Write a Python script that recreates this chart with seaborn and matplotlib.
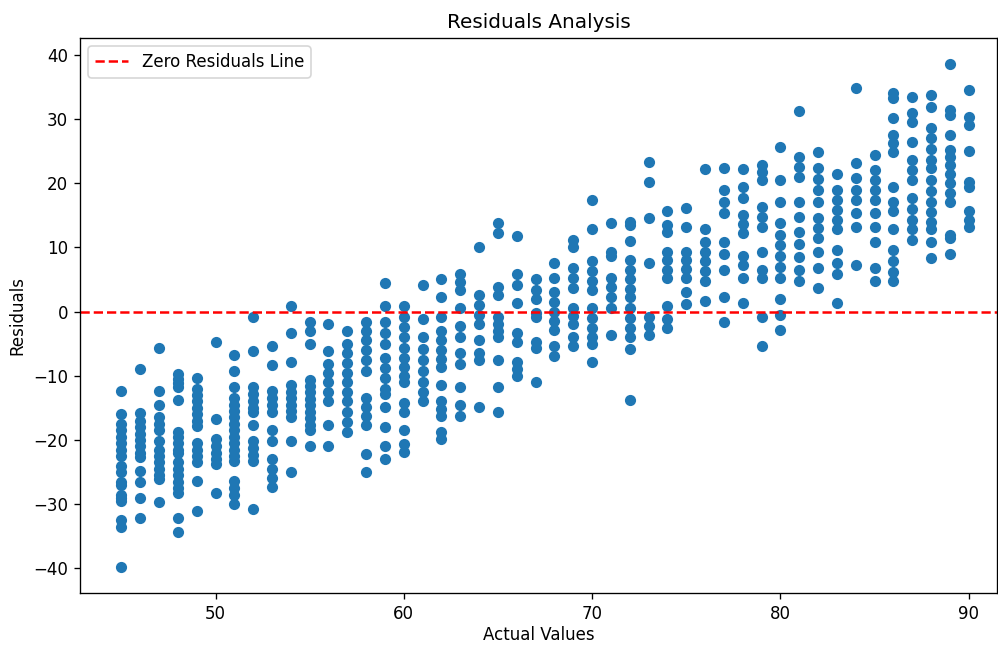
import pandas as pd
import seaborn as sns
import matplotlib.pyplot as plt

# residuals, one list per actual value
r45 = [-12.4, -16, -17.5, -18.5, -19.5, -20.5, -21.5, -22.5, -24, -25, -26.5, -27, -28.5, -29, -29.5, -32.5, -33.5, -39.8]
r46 = [-8.9, -15.8, -17, -18, -19, -20, -21, -22, -22.7, -24.9, -26.6, -29.1, -32.2]
r47 = [-5.6, -12.4, -14.6, -16.5, -17.5, -18.4, -20.2, -21.5, -22.5, -23.5, -24.5, -25.5, -26.1, -29.7]
r48 = [-9.8, -10.5, -11.2, -11.8, -13.7, -18.7, -19.5, -20.5, -21.5, -22, -23.5, -24.5, -25.5, -26.5, -27.5, -28.2, -32.2, -34.4]
r49 = [-10.4, -12.1, -13, -14, -15, -16, -17, -17.9, -20.4, -21.5, -22.5, -23.5, -26.4, -31.1]
r50 = [-4.7, -16.8, -19.9, -21, -22, -23, -23.8, -28.3]
r51 = [-6.8, -9.3, -11.7, -13.4, -14.5, -15.5, -16.5, -17.5, -18.5, -19.5, -20.5, -21.5, -22.5, -23.3, -26.4, -27.5, -28.5, -30]
r52 = [-0.9, -6.2, -11.7, -12.8, -14, -15, -15.7, -17.7, -20.2, -21.2, -22.3, -23.3, -30.8]
r53 = [-5.4, -8.4, -12.4, -13.5, -14.6, -15.7, -18.4, -20.2, -23, -24.5, -26, -27.4]
r54 = [0.8, -3.3, -7.8, -11.4, -12.5, -13.5, -14.5, -15.5, -16.5, -20.1, -25]
r55 = [-1.6, -3.1, -5.1, -10.6, -11.6, -12.6, -13.6, -14.6, -15.6, -16.6, -17.6, -18.5, -21]
r56 = [-2, -6.2, -8.2, -9.5, -11, -12.5, -14, -17.6, -21]
r57 = [-3, -5.1, -6.5, -8, -9.5, -11, -12.5, -14, -15.7, -17.2, -18.8]
r58 = [-1.7, -3, -4.5, -6, -7.5, -9.3, -13.4, -14.8, -16.2, -17.6, -22.2, -25]
r59 = [4.5, 0.8, -1.7, -3.3, -5.1, -7.2, -8.8, -10.4, -12, -12.9, -14.9, -18, -21, -23]
r60 = [0.8, -0.8, -2.4, -4, -5.6, -7.2, -8.6, -10.1, -11, -14.2, -15.7, -18.5, -20.7, -21.9]
r61 = [4.2, -1.2, -4, -5.9, -7.5, -9.2, -11, -12.6, -14]
r62 = [5, 2.2, -0.8, -3.1, -4.5, -6, -7.4, -8.6, -11.4, -14, -15.2, -16.3, -18.8, -19.9]
r63 = [5.8, 4.6, 3.4, 0.6, -2.3, -4, -6.4, -8.2, -11.7, -14.5, -16.3]
r64 = [10, 2.6, 1, -0.5, -2, -4.4, -6.4, -7.5, -14.8]
r65 = [13.8, 12.3, 3.9, 2.6, -0.8, -2, -3, -4, -7.5, -11.8, -15.7]
r66 = [11.8, 5.8, 4.2, 1.4, -3.3, -4.8, -7.9, -9, -10.1]
r67 = [5, 3.4, 1.9, -0.2, -0.8, -4.7, -5.6, -11]
r68 = [7.6, 5.3, 3.1, 1.5, 0, -1.4, -2.8, -5.4, -7]
r69 = [11.2, 10.1, 6.8, 5.3, 3.7, 0.6, -0.7, -2, -4, -5.4]
r70 = [17.4, 12.8, 7.8, 6.3, 4.8, 3.4, 0.6, -1, -2.5, -4, -5.1, -7.9]
r71 = [13.8, 9.3, 8.6, 5.3, 3.8, 2.2, 0.6, -3.7]
r72 = [14, 13.5, 11, 8.1, 6.5, 5, 3.5, 2.2, 0.6, -1, -2.5, -4, -5.9, -13.8]
r73 = [23.3, 20.2, 14.6, 7.6, -0.8, -2.2, -3.6]
r74 = [15.7, 13.5, 12.4, 9.3, 8.1, 6.5, 5.3, 0.8, -1.2, -2.5]
r75 = [16.2, 13.1, 9.3, 8, 6.6, 5.3, 3.1, 1.1]
r76 = [22.2, 12.8, 10.9, 9.3, 7.8, 6.3, 4.7, 1.7]
r77 = [22.4, 19, 17, 15.4, 10.9, 8.9, 6.5, 2.2, -1.7]
r78 = [22.2, 19.4, 17.7, 15.1, 13.7, 12.3, 8.6, 7.3, 5.3, 1.4]
r79 = [22.9, 21.7, 20.5, 16.3, 14.7, 13.2, 9.2, 6.5, 5.3, -0.9, -5.3]
r80 = [25.7, 20.5, 17, 13.8, 12, 10.3, 8.6, 7, 5.3, 2, -0.5, -2.8]
r81 = [31.3, 24.1, 22.5, 21, 17, 14.8, 12.4, 10.5, 8.5, 6.5, 4.7]
r82 = [24.9, 22.4, 20.7, 19, 17.1, 14.6, 13, 11.5, 9.2, 6.8, 3.7]
r83 = [21.5, 19, 17.4, 15.8, 14.3, 12.8, 9.6, 7.6, 5.8, 1.4]
r84 = [34.8, 23.2, 20.8, 19, 17.3, 15.3, 13.2, 7.3]
r85 = [24.4, 22.1, 20.5, 19, 17.3, 15.4, 13.1, 10.9, 6.8, 4.7]
r86 = [34.1, 33.3, 30.2, 27.5, 26.2, 24.9, 19.4, 17, 15.6, 12.8, 9.6, 7.9, 6.2, 4.7]
r87 = [33.4, 30.9, 29.5, 26.4, 23.6, 22, 20.5, 17.7, 15.9, 14.3, 12.8, 11.2]
r88 = [33.7, 31.9, 28.6, 27, 25.3, 23.6, 22.4, 20.5, 18.7, 17, 15.5, 14, 12.8, 10.9, 8.4]
r89 = [38.6, 31.4, 30.6, 27.5, 25.2, 24.1, 22.9, 21.4, 20, 18.5, 17, 12, 11.5, 8.9]
r90 = [34.5, 30.3, 29.1, 25, 20.2, 19.4, 15.6, 14.3, 13.1]

columns = [r45, r46, r47, r48, r49, r50, r51, r52, r53, r54, r55, r56, r57, r58, r59,
           r60, r61, r62, r63, r64, r65, r66, r67, r68, r69, r70, r71, r72, r73, r74,
           r75, r76, r77, r78, r79, r80, r81, r82, r83, r84, r85, r86, r87, r88, r89, r90]
actual_values = list(range(45, 91))

rows = []
for a, res in zip(actual_values, columns):
    for r in res:
        rows.append((a, r))
df = pd.DataFrame(rows, columns=["actual", "residual"])

# rendered a bit larger than default, like the reference
fig, ax = plt.subplots(figsize=(8.325, 5.375), dpi=120)
fig.subplots_adjust(left=0.08, right=0.998, top=0.941, bottom=0.08)

sns.scatterplot(data=df, x="actual", y="residual", color="#1f77b4", s=45, linewidth=0, ax=ax)
ax.axhline(0, color="red", linestyle="--", linewidth=1.5, label="Zero Residuals Line")

ax.set_xlim(42.8, 91.5)
ax.set_ylim(-43.9, 42.6)
ax.set_title("Residuals Analysis")
ax.set_xlabel("Actual Values", labelpad=2)
ax.set_ylabel("Residuals")
ax.legend(loc="upper left")

plt.savefig("out.png")
